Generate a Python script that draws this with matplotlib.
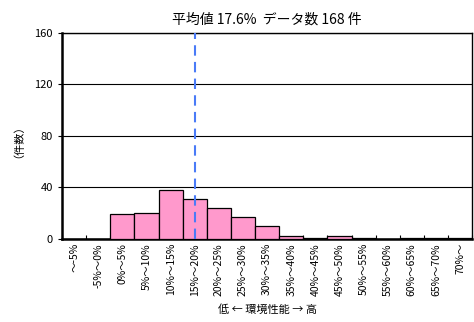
import numpy as np
import matplotlib.pyplot as plt

plt.rcParams['font.family'] = ['Noto Sans CJK JP', 'DejaVu Sans']

categories = ['～-5%', '-5%～0%', '0%～5%', '5%～10%', '10%～15%', '15%～20%',
              '20%～25%', '25%～30%', '30%～35%', '35%～40%', '40%～45%',
              '45%～50%', '50%～55%', '55%～60%', '60%～65%', '65%～70%', '70%～']
counts = [0, 0, 19, 20, 38, 31, 24, 17, 10, 2, 1, 2, 1, 0, 1, 1, 1]
mean_value = 17.6   # percent
n_data = 168

fig = plt.figure(figsize=(4.74, 3.22), dpi=100)
ax = fig.add_axes([0.131, 0.258, 0.865, 0.640])

x = np.arange(len(categories))
ax.bar(x, counts, width=1.0, color='#FF99CC', edgecolor='black', linewidth=0.9, zorder=3)

# mean line: bin index 2 starts at 0%, 5% per bin
mean_x = 2 - 0.5 + mean_value / 5.0
ax.axvline(mean_x, color='#4A7BF7', linestyle=(0, (5, 3)), linewidth=1.5, zorder=4)

ax.set_xlim(-0.5, len(categories) - 0.5)
ax.set_ylim(0, 160)
ax.set_yticks([0, 40, 80, 120, 160])
ax.yaxis.grid(True, color='black', linewidth=0.8, zorder=0)
ax.tick_params(axis='y', labelsize=8, length=3, width=0.8)

ax.set_xticks(x)
ax.set_xticklabels(categories, rotation=90, fontsize=7.5)
ax.tick_params(axis='x', length=0, pad=3)
ax.set_xticks(np.arange(len(categories) + 1) - 0.5, minor=True)
ax.tick_params(axis='x', which='minor', direction='in', length=3, width=0.8)

for side in ['left', 'bottom']:
    ax.spines[side].set_linewidth(1.8)
for side in ['top', 'right']:
    ax.spines[side].set_linewidth(1.0)

ax.set_title(f'平均値 {mean_value}%  データ数 {n_data} 件', fontsize=10, pad=7)
ax.set_ylabel('（件数）', fontsize=8, labelpad=12)
ax.set_xlabel('低 ← 環境性能 → 高', fontsize=8, labelpad=6)

plt.savefig('out.png', dpi=100)
